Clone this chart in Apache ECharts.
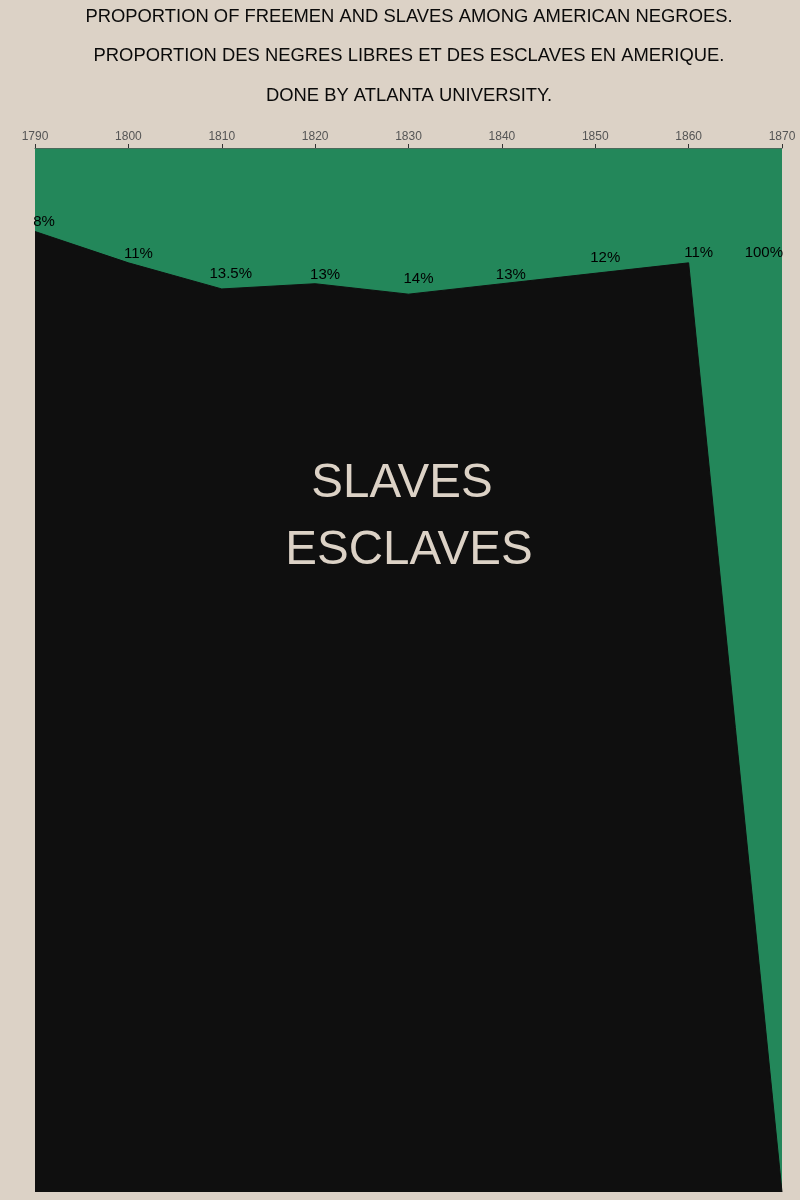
<!DOCTYPE html>
<html>
<head>
<meta charset="utf-8">
<script src="https://cdn.jsdelivr.net/npm/echarts@6/dist/echarts.min.js"></script>
<style>
html,body{margin:0;padding:0;background:#dcd2c6;}
#chart{width:800px;height:1200px;}
</style>
</head>
<body>
<div id="chart"></div>
<script>
const years = [1790, 1800, 1810, 1820, 1830, 1840, 1850, 1860, 1870];
const freePct = [8, 11, 13.5, 13, 14, 13, 12, 11, 100];
const pctLabels = ['8%', '11%', '13.5%', '13%', '14%', '13%', '12%', '11%', '100%'];
const labelOffsets = [[9,-10],[10,-9],[9,-15],[10,-9],[10,-15],[9,-9],[10,-15],[10,-10]];
const titles = [
  'PROPORTION OF FREEMEN AND SLAVES AMONG AMERICAN NEGROES.',
  'PROPORTION DES NEGRES LIBRES ET DES ESCLAVES EN AMERIQUE.',
  'DONE BY ATLANTA UNIVERSITY.'
];
const bg = '#dcd2c6', green = '#23875a', black = '#0f0f0f';
const font = "'Liberation Sans', Arial, sans-serif";

const seriesData = years.map((y, i) => {
  const item = { value: [y, freePct[i]] };
  if (i < labelOffsets.length) {
    item.label = { show: true, formatter: pctLabels[i], position: 'inside', offset: labelOffsets[i],
      color: '#000', fontSize: 15, fontFamily: font };
  } else {
    item.label = { show: false };
  }
  return item;
});

const titleGraphics = titles.map((t, i) => ({
  type: 'text', x: 409, y: [17, 56, 96][i], z: 100,
  style: { text: t, fill: '#0a0a0a', fontSize: 18.4, fontFamily: font, align: 'center', verticalAlign: 'middle' }
}));

const chart = echarts.init(document.getElementById('chart'), null, { renderer: 'canvas' });
chart.setOption({
  backgroundColor: bg,
  animation: false,
  grid: { left: 35, right: 18, top: 148, bottom: 8, show: true, backgroundColor: green, borderWidth: 0 },
  xAxis: {
    type: 'value', position: 'top', min: 1790, max: 1870, interval: 10,
    axisLine: { show: true, lineStyle: { color: '#4a6a5a', width: 1 } },
    axisTick: { show: true, length: 4, lineStyle: { color: '#333' } },
    axisLabel: { color: '#555', fontSize: 12, margin: 5, fontFamily: font, formatter: v => String(v) },
    splitLine: { show: false }
  },
  yAxis: {
    type: 'value', inverse: true, min: 0, max: 100,
    axisLine: { show: false }, axisTick: { show: false }, axisLabel: { show: false },
    splitLine: { show: false }
  },
  graphic: titleGraphics.concat([
    { type: 'text', x: 402, y: 484, z: 100,
      style: { text: 'SLAVES', fill: bg, fontSize: 47.5, fontFamily: font, align: 'center', verticalAlign: 'middle' } },
    { type: 'text', x: 409, y: 551, z: 100,
      style: { text: 'ESCLAVES', fill: bg, fontSize: 47.5, fontFamily: font, align: 'center', verticalAlign: 'middle' } }
  ]),
  series: [{
    type: 'line',
    data: seriesData,
    symbol: 'circle', symbolSize: 1, showSymbol: true,
    itemStyle: { color: 'transparent' },
    lineStyle: { color: black, width: 1 },
    areaStyle: { color: black, opacity: 1, origin: 'end' },
    markPoint: {
      symbol: 'circle', symbolSize: 1, itemStyle: { color: 'transparent' },
      data: [{ coord: [years[8], freePct[7]], value: pctLabels[8],
        label: { show: true, formatter: pctLabels[8], position: 'inside', align: 'right', offset: [1, -10],
          color: '#000', fontSize: 15, fontFamily: font } }]
    },
    z: 3
  }]
});
</script>
</body>
</html>
